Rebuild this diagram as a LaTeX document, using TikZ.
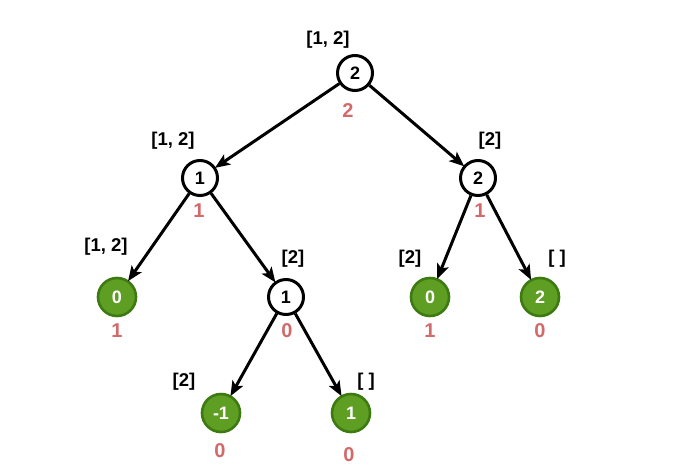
\documentclass[tikz,border=0pt]{standalone}
\usepackage{fontspec}
\setmainfont{Liberation Sans}
\usetikzlibrary{arrows.meta}
\definecolor{gfill}{HTML}{5E9E22}
\definecolor{gdraw}{HTML}{3E7A12}
\definecolor{redtxt}{HTML}{D26A6A}
\tikzset{
  wnode/.style={circle, draw=black, line width=3pt, fill=white, minimum size=35pt, inner sep=0pt, font=\fontsize{18}{18}\selectfont\bfseries},
  gnode/.style={circle, draw=gdraw, line width=2.6pt, fill=gfill, text=white, minimum size=38pt, inner sep=0pt, font=\fontsize{18}{18}\selectfont\bfseries},
  lab/.style={font=\fontsize{18.5}{18.5}\selectfont\bfseries, inner sep=0pt},
  rlab/.style={font=\fontsize{20}{20}\selectfont\bfseries, text=redtxt, inner sep=0pt},
  arr/.style={-{Stealth[length=15pt,width=12pt,inset=3.5pt]}, line width=3pt, shorten >=-1pt}
}
\begin{document}
\begin{tikzpicture}[x=1pt,y=-1pt]
\useasboundingbox (0,0) rectangle (700,471);
\fill[white] (0,0) rectangle (700,471);
% nodes
\node[wnode] (root) at (355,73) {2};
\node[wnode] (l1) at (200,178) {1};
\node[wnode] (r1) at (478,178) {2};
\node[gnode] (ll) at (117,297) {0};
\node[wnode] (lr) at (286,297) {1};
\node[gnode] (rl) at (430,297) {0};
\node[gnode] (rr) at (540,297) {2};
\node[gnode] (lrl) at (221,413) {-1};
\node[gnode] (lrr) at (351,413) {1};
% edges
\draw[arr] (root) -- (l1);
\draw[arr] (root) -- (r1);
\draw[arr] (l1) -- (ll);
\draw[arr] (l1) -- (lr);
\draw[arr] (r1) -- (rl);
\draw[arr] (r1) -- (rr);
\draw[arr] (lr) -- (lrl);
\draw[arr] (lr) -- (lrr);
% set labels
\node[lab] (s1) at (328,40) {[1, 2]};
\node[lab] (s2) at (173,141) {[1, 2]};
\node[lab] (s3) at (490,141) {[2]};
\node[lab] (s4) at (106,247) {[1, 2]};
\node[lab] (s5) at (293,259) {[2]};
\node[lab] (s6) at (410,259) {[2]};
\node[lab] (s7) at (557,259) {[ ]};
\node[lab] (s8) at (184,382) {[2]};
\node[lab] (s9) at (366,382) {[ ]};
% red labels
\node[rlab] (c1) at (348,111) {2};
\node[rlab] (c2) at (199,211) {1};
\node[rlab] (c3) at (480,211) {1};
\node[rlab] (c4) at (117,331) {1};
\node[rlab] (c5) at (287,331) {0};
\node[rlab] (c6) at (430,331) {1};
\node[rlab] (c7) at (540,331) {0};
\node[rlab] (c8) at (220,451) {0};
\node[rlab] (c9) at (349,455) {0};
\end{tikzpicture}
\end{document}
